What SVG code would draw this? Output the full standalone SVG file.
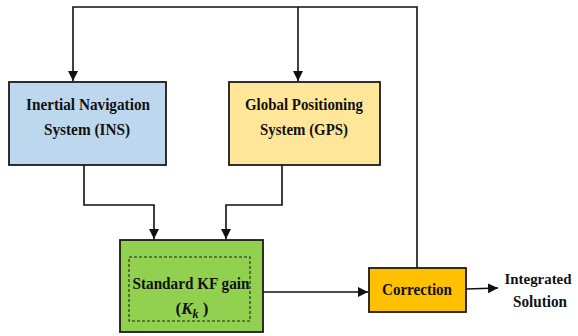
<svg xmlns="http://www.w3.org/2000/svg" width="578" height="336" viewBox="0 0 578 336">
<style>
.box{stroke:#1a1a1a;stroke-width:1.8}
.t{font-family:"Liberation Serif","Times New Roman",serif;font-weight:bold;font-size:17px;fill:#111;text-anchor:middle}
.c{fill:none;stroke:#111;stroke-width:1.6}
</style>
<defs>
<marker id="ah" viewBox="0 0 10 10" refX="10" refY="5" markerWidth="10" markerHeight="10" markerUnits="userSpaceOnUse" orient="auto">
<path d="M0,0 L10,5 L0,10 z" fill="#111"/>
</marker>
</defs>
<rect width="578" height="336" fill="#fff"/>
<g id="connectors">
<path class="c" d="M417,268 L417,7 L73,7 L73,81" marker-end="url(#ah)"/>
<path class="c" d="M298,7 L298,81" marker-end="url(#ah)"/>
<path class="c" d="M84,165 L84,205 L154,205 L154,239" marker-end="url(#ah)"/>
<path class="c" d="M282,165 L282,205 L226,205 L226,239" marker-end="url(#ah)"/>
<path class="c" d="M263,292 L368,292" marker-end="url(#ah)"/>
<path class="c" d="M466,289 L498,288" marker-end="url(#ah)"/>
</g>
<g id="ins">
<rect class="box" x="9" y="82" width="157" height="83" fill="#BDD7EE"/>
<text class="t" x="88" y="110" textLength="124" lengthAdjust="spacingAndGlyphs">Inertial Navigation</text>
<text class="t" x="87" y="135" textLength="86" lengthAdjust="spacingAndGlyphs">System (INS)</text>
</g>
<g id="gps">
<rect class="box" x="229" y="82" width="151" height="83" fill="#FFE699"/>
<text class="t" x="304" y="110" textLength="118" lengthAdjust="spacingAndGlyphs">Global Positioning</text>
<text class="t" x="304" y="135" textLength="88" lengthAdjust="spacingAndGlyphs">System (GPS)</text>
</g>
<g id="kf">
<rect class="box" x="120" y="240" width="143" height="92" fill="#92D050"/>
<rect x="129" y="257" width="121" height="64" fill="none" stroke="#222" stroke-width="1.1" stroke-dasharray="3,2"/>
<text class="t" x="191" y="289" textLength="117" lengthAdjust="spacingAndGlyphs">Standard KF gain</text>
<text class="t" x="192" y="314">(<tspan font-style="italic">K</tspan><tspan font-style="italic" font-size="12" dy="4">k</tspan><tspan dy="-4"> )</tspan></text>
</g>
<g id="correction">
<rect class="box" x="369" y="268" width="97" height="44" fill="#FFC000"/>
<text class="t" x="417" y="295" textLength="70" lengthAdjust="spacingAndGlyphs">Correction</text>
</g>
<g id="output">
<text class="t" x="538" y="284" font-size="15.5" style="font-size:15.5px" textLength="67" lengthAdjust="spacingAndGlyphs">Integrated</text>
<text class="t" x="540" y="307" textLength="54" lengthAdjust="spacingAndGlyphs">Solution</text>
</g>
</svg>
